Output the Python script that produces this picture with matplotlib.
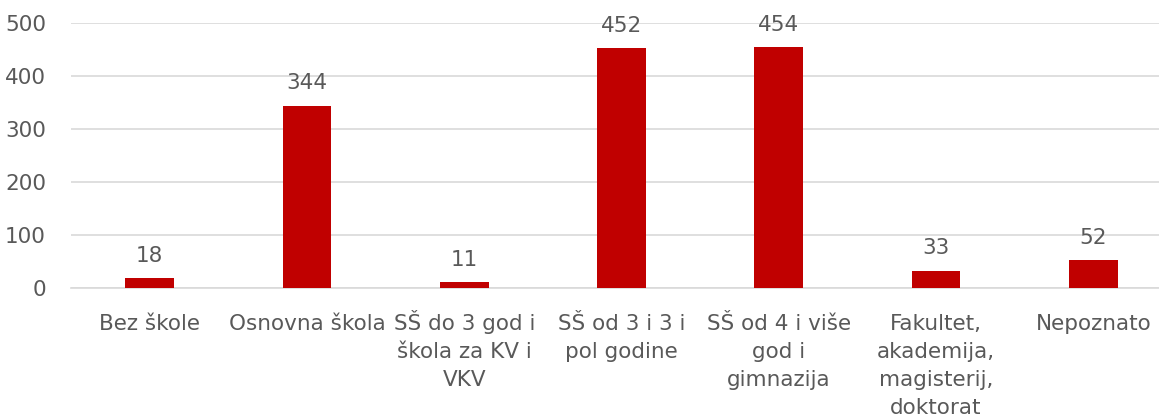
import matplotlib
matplotlib.use("Agg")
import matplotlib.pyplot as plt
from matplotlib.transforms import ScaledTranslation

categories = ["Bez škole", "Osnovna škola", "SŠ do 3 god i\nškola za KV i\nVKV",
              "SŠ od 3 i 3 i\npol godine", "SŠ od 4 i više\ngod i\ngimnazija",
              "Fakultet,\nakademija,\nmagisterij,\ndoktorat", "Nepoznato"]
values = [18, 344, 11, 452, 454, 33, 52]
yticks = [0, 100, 200, 300, 400, 500]

W, H = 1159, 417
DPI = 100
fig = plt.figure(figsize=(W / DPI, H / DPI), dpi=DPI)
left, right = 71, 1172
top, bottom = 23, 288
ax = fig.add_axes([left / W, (H - bottom) / H, (right - left) / W, (bottom - top) / H])

txt = "#595959"
fs = 15.5
x = list(range(len(categories)))
ax.bar(x, values, width=0.31, color="#C00000", zorder=3)
ax.set_xlim(-0.5, len(categories) - 0.5)
ax.set_ylim(0, 500)
ax.set_yticks(yticks)
ax.set_yticklabels([str(v) for v in yticks], fontsize=fs, color=txt)
ax.set_xticks(x)
ax.set_xticklabels([""] * len(categories))
ax.tick_params(axis="both", length=0)
ax.tick_params(axis="y", pad=18)
ax.grid(axis="y", color="#D9D9D9", linewidth=1.2, zorder=0)
for s in ["top", "right", "left"]:
    ax.spines[s].set_visible(False)
ax.spines["bottom"].set_color("#D9D9D9")
ax.spines["bottom"].set_linewidth(1.2)
ax.spines["bottom"].set_zorder(1)

# category labels: first-line baselines aligned below the axis
first_base_px = 41.5
step_px = 28.3
for xi, lab in zip(x, categories):
    n = lab.count("\n") + 1
    dy = -(first_base_px + (n - 1) * step_px) / DPI
    tr = ax.get_xaxis_transform() + ScaledTranslation(0, dy, fig.dpi_scale_trans)
    ax.text(xi, 0, lab, transform=tr, ha="center", va="baseline", multialignment="center",
            fontsize=fs, color=txt, linespacing=1.51)

for xi, v in zip(x, values):
    ax.annotate(str(v), (xi, v), xytext=(0, 12), textcoords="offset points",
                ha="center", va="baseline", fontsize=fs, color=txt, annotation_clip=False)

fig.savefig("out.png", dpi=DPI)
